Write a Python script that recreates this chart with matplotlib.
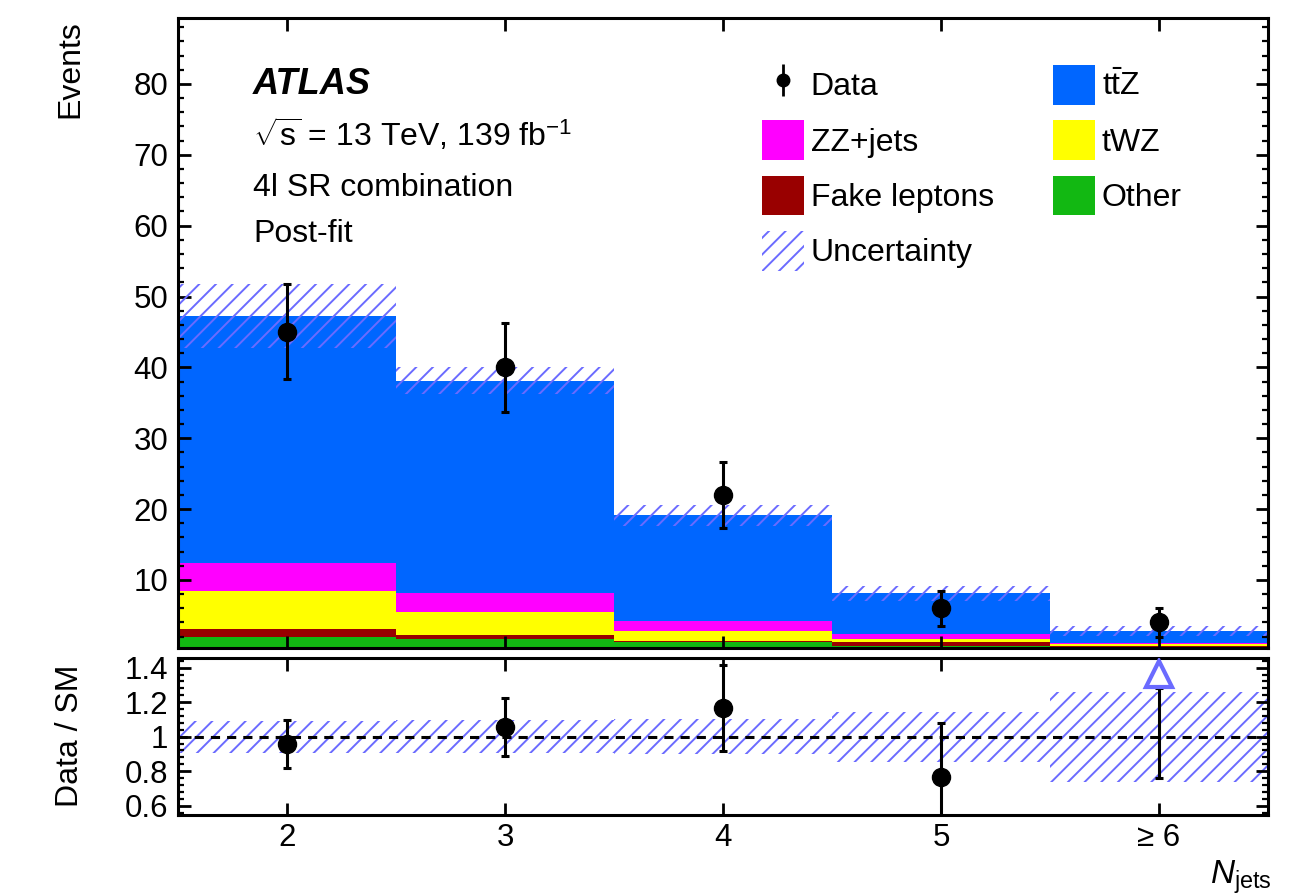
import matplotlib
matplotlib.use('Agg')
import matplotlib.pyplot as plt
import numpy as np
from matplotlib.ticker import MultipleLocator, FuncFormatter

plt.rcParams['font.family'] = 'Liberation Sans'
plt.rcParams['font.size'] = 23
plt.rcParams['mathtext.fontset'] = 'custom'
plt.rcParams['mathtext.rm'] = 'Liberation Sans'
plt.rcParams['mathtext.it'] = 'Liberation Sans:italic'
plt.rcParams['mathtext.bf'] = 'Liberation Sans:bold'
plt.rcParams['hatch.linewidth'] = 1.4

# bins in jet multiplicity
nj = [2, 3, 4, 5, 6]
nj_labels = ['2', '3', '4', '5', '≥ 6']

# post-fit yields per process (stacked from the bottom)
other = [2.0, 1.7, 1.2, 0.73, 0.5]
fake = [1.1, 0.5, 0.2, 0.47, 0.15]
twz = [5.4, 3.3, 1.4, 0.5, 0.25]
zz = [3.9, 2.7, 1.4, 0.7, 0.25]
ttz = [34.8, 29.9, 14.9, 5.7, 1.65]
unc = [4.5, 1.9, 1.5, 1.05, 0.7]

data = [45, 40, 22, 6, 4]
data_err = [6.7, 6.3, 4.7, 2.45, 2.0]

# ratio panel
ratio = [0.957, 1.056, 1.166, 0.768]
ratio_err = [0.14, 0.17, 0.25, 0.31]
ratio_unc = [0.093, 0.095, 0.10, 0.145, 0.26]
ratio6_low = 0.76     # lower end of the >=6 bar, point itself is off-scale
ratio6_arrow = 1.365

procs = [(other, '#12b812', 'Other'),
         (fake, '#990000', 'Fake leptons'),
         (twz, '#ffff00', 'tWZ'),
         (zz, '#ff00ff', 'ZZ+jets'),
         (ttz, '#0066ff', r't$\bar{\mathrm{t}}$Z')]
hatch_c = '#6b6bff'

fig = plt.figure(figsize=(12.9, 8.93), dpi=100)
W, H = 1290, 893
ax1 = fig.add_axes([178 / W, 1 - 648 / H, 1090 / W, 630 / H])
ax2 = fig.add_axes([178 / W, 1 - 815 / H, 1090 / W, 157 / H])

bottom = np.zeros(len(nj))
bars = {}
for vals, c, lab in procs:
    bars[lab] = ax1.bar(nj, vals, width=1, bottom=bottom, color=c, linewidth=0, zorder=1)
    bottom = bottom + np.array(vals)
total = bottom

unc = np.array(unc)
hb = ax1.bar(nj, 2 * unc, width=1, bottom=total - unc, color='none', edgecolor=hatch_c,
             hatch='//', linewidth=0, zorder=2)
eb = ax1.errorbar(nj, data, yerr=data_err, fmt='o', color='k', ms=13, elinewidth=2.2,
                  capsize=3, capthick=2.2, zorder=5)
leg_data = ax1.errorbar([np.nan], [np.nan], yerr=[1], fmt='o', color='k', ms=9,
                        elinewidth=2, capsize=0)

ax1.set_xlim(1.5, 6.5)
ax1.set_ylim(0.4, 89.3)
ax1.yaxis.set_major_locator(MultipleLocator(10))
ax1.yaxis.set_minor_locator(MultipleLocator(2))
ax1.set_xticks(nj)
ax1.tick_params(labelbottom=False)

# ratio
ratio_unc = np.array(ratio_unc)
ax2.bar(nj, 2 * ratio_unc, width=1, bottom=1 - ratio_unc, color='none', edgecolor=hatch_c,
        hatch='//', linewidth=0, zorder=1)
ax2.axhline(1, color='k', ls=(0, (3, 2.3)), lw=2.2, zorder=2)
ax2.errorbar(nj[:4], ratio, yerr=ratio_err, fmt='o', color='k', ms=13, elinewidth=2.2,
             capsize=3, capthick=2.2, zorder=5)
ax2.errorbar([nj[4]], [ratio6_low], yerr=[[0], [ratio6_arrow - 0.085 - ratio6_low]],
             fmt='none', ecolor='k', elinewidth=2.2, capsize=3, capthick=2.2, zorder=5)
ax2.plot([nj[4]], [ratio6_arrow], marker='^', ms=19, mfc='white', mec=hatch_c, mew=3,
         zorder=6)
ax2.set_xlim(1.5, 6.5)
ax2.set_ylim(0.546, 1.456)
ax2.yaxis.set_major_locator(MultipleLocator(0.2))
ax2.yaxis.set_minor_locator(MultipleLocator(0.04))
ax2.yaxis.set_major_formatter(FuncFormatter(lambda v, p: '%g' % round(v, 2)))
ax2.set_xticks(nj, nj_labels)

for ax in (ax1, ax2):
    ax.tick_params(which='both', direction='in', top=True, right=True, labelsize=22.5)
    ax.tick_params(which='major', length=9, width=2)
    ax.tick_params(which='minor', length=4.5, width=1.6)
    ax.tick_params(axis='y', pad=7)
    ax.tick_params(axis='x', pad=6)
    for s in ax.spines.values():
        s.set_linewidth(2.2)

# labels
fig.text(70 / W, 1 - 20 / H, 'Events', rotation=90, ha='center', va='top')
fig.text(70 / W, 1 - 736 / H, 'Data / SM', rotation=90, ha='center', va='center')
fig.text(1272 / W, 1 - 884 / H, r'$N_{\mathrm{jets}}$', ha='right', va='baseline', fontsize=24)

fig.text(253 / W, 1 - 94 / H, 'ATLAS', fontweight='bold', style='italic', va='baseline',
         fontsize=26)
fig.text(253 / W, 1 - 146 / H, r'$\sqrt{\mathrm{s}}$ = 13 TeV, 139 fb$^{\mathrm{-1}}$', va='baseline')
fig.text(253 / W, 1 - 196 / H, '4l SR combination', va='baseline')
fig.text(253 / W, 1 - 242 / H, 'Post-fit', va='baseline')

handles = [leg_data, bars['ZZ+jets'], bars['Fake leptons'], hb,
           bars[r't$\bar{\mathrm{t}}$Z'], bars['tWZ'], bars['Other']]
labels = ['Data', 'ZZ+jets', 'Fake leptons', 'Uncertainty',
          r't$\bar{\mathrm{t}}$Z', 'tWZ', 'Other']
ax1.legend(handles, labels, ncol=2, loc='upper left', bbox_to_anchor=(762 / W, 1 - 65 / H),
           bbox_transform=fig.transFigure, frameon=False, borderpad=0, borderaxespad=0,
           handlelength=1.3, handleheight=1.546, handletextpad=0.22, labelspacing=0.48,
           columnspacing=1.87, fontsize=23)

fig.savefig('out.png', dpi=100)
